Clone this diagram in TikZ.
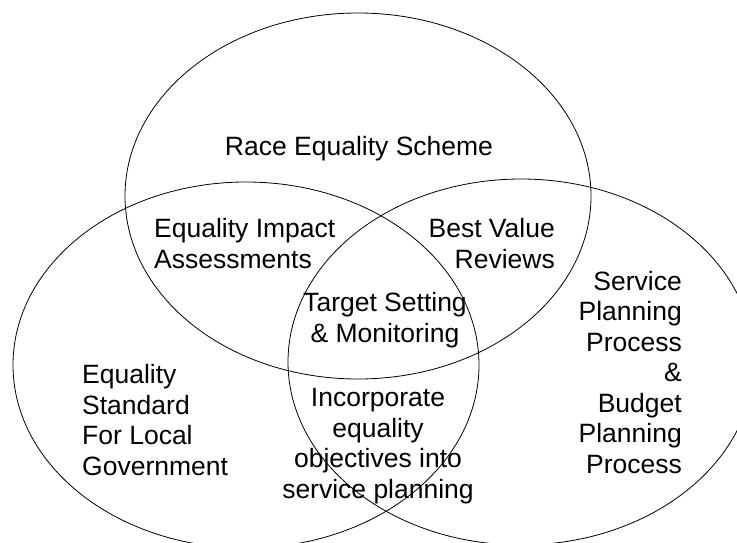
\documentclass[tikz,border=0pt]{standalone}
\usepackage{fontspec}
\setmainfont{Liberation Sans}
\begin{document}
\begin{tikzpicture}[x=1pt,y=-1pt,
  setring/.style={draw=black,line width=0.8pt},
  lbl/.style={inner sep=0pt,font=\fontsize{26.5}{30.5}\selectfont}]
  \useasboundingbox (0,0) rectangle (737,542);
  \clip (0,0) rectangle (737,542);
  % the three overlapping sets
  \draw[setring] (358,196) ellipse [x radius=233, y radius=183];
  \draw[setring] (246,365) ellipse [x radius=233, y radius=183];
  \draw[setring] (521,362) ellipse [x radius=233, y radius=183];
  % labels (multi-line nodes sit on the baseline of their last line)
  \node[lbl,anchor=base] (res) at (359,155) {Race Equality Scheme};
  \node[lbl,anchor=base west,align=left] (eia) at (154,268) {Equality Impact\\Assessments};
  \node[lbl,anchor=base east,align=right] (bvr) at (555,268) {Best Value\\Reviews};
  \node[lbl,anchor=base,align=center] (tsm) at (385,342) {Target Setting\\\& Monitoring};
  \node[lbl,anchor=base,align=center] (ieo) at (378,498) {Incorporate\\equality\\objectives into\\service planning};
  \node[lbl,anchor=base west,align=left] (esl) at (82,475) {Equality\\Standard\\For Local\\Government};
  \node[lbl,anchor=base east,align=right] (spp) at (682,473) {Service\\Planning\\Process\\\&\\Budget\\Planning\\Process};
\end{tikzpicture}
\end{document}
